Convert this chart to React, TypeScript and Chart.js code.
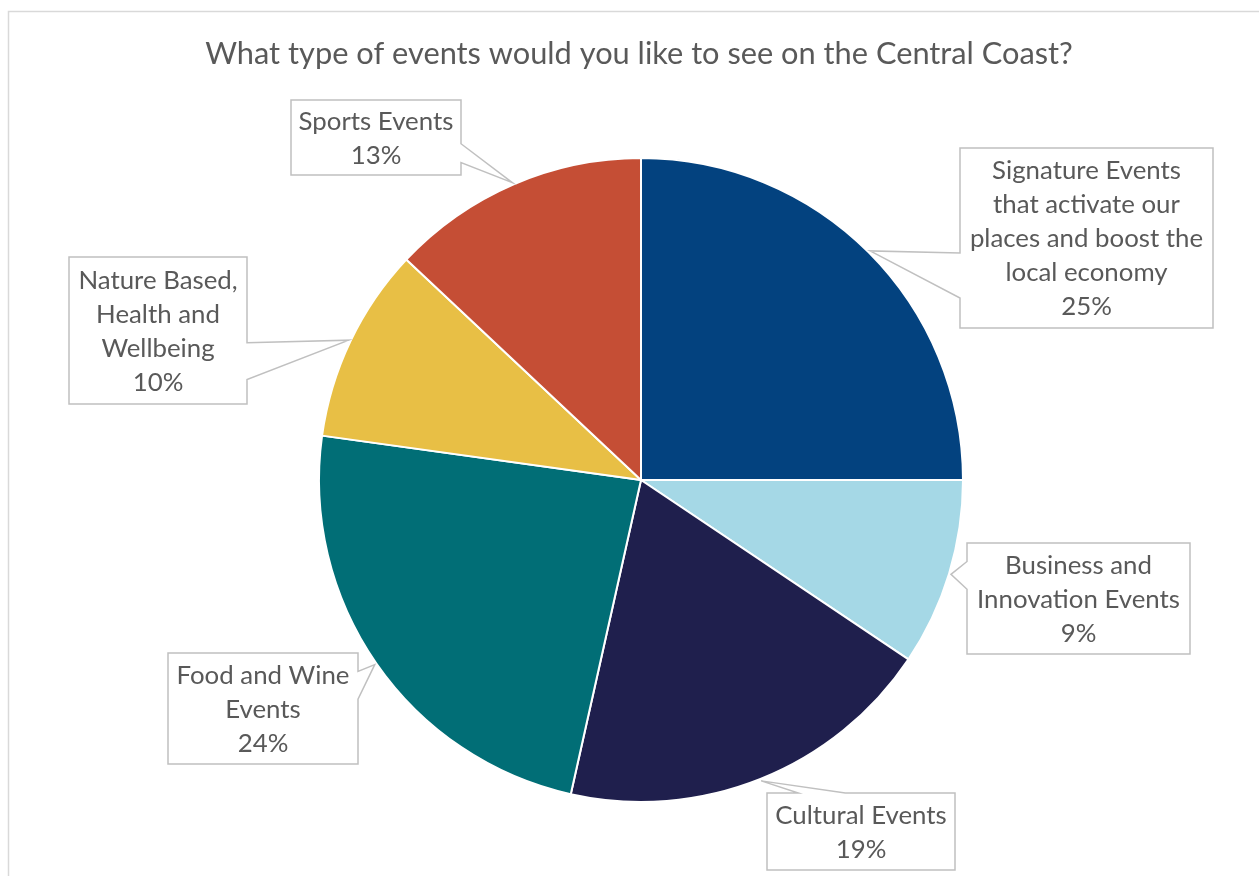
import React, { useEffect, useRef } from "react";
import { Chart, registerables } from "chart.js";

Chart.register(...registerables);

const TITLE = "What type of events would you like to see on the Central Coast?";

const categories = [
  "Signature Events that activate our places and boost the local economy",
  "Business and Innovation Events",
  "Cultural Events",
  "Food and Wine Events",
  "Nature Based, Health and Wellbeing",
  "Sports Events",
];

const labelLines = [
  ["Signature Events", "that activate our", "places and boost the", "local economy"],
  ["Business and", "Innovation Events"],
  ["Cultural Events"],
  ["Food and Wine", "Events"],
  ["Nature Based,", "Health and", "Wellbeing"],
  ["Sports Events"],
];

// share of responses (%)
const values = [25.0, 9.4, 19.1, 23.7, 9.8, 13.0];

const colors = ["#03427f", "#a5d8e6", "#1f1f4d", "#016e76", "#e8bf45", "#c54e35"];

// callout box layout: centre offset from pie centre (px) and box size (px)
const calloutOffsets = [
  [445.5, -242],
  [437.5, 118.5],
  [220, 351.5],
  [-378, 228.5],
  [-483, -149.5],
  [-265, -342.5],
];
const calloutSizes = [
  [253, 180],
  [223, 111],
  [188, 77],
  [190, 111],
  [178, 147],
  [170, 75],
];

const FONT = "Lato, 'Open Sans', sans-serif";
const TEXT_COLOR = "#595959";
const BOX_COLOR = "#c0c0c0";

function fitSize(ctx: CanvasRenderingContext2D, text: string, target: number) {
  ctx.font = `100px ${FONT}`;
  const w = ctx.measureText(text).width;
  return (100 * target) / w;
}

const calloutPlugin = {
  id: "callouts",
  beforeDraw(chart: any) {
    const ctx: CanvasRenderingContext2D = chart.ctx;
    ctx.save();
    // outer frame
    ctx.strokeStyle = "#d9d9d9";
    ctx.lineWidth = 1.5;
    ctx.beginPath();
    ctx.moveTo(8.5, chart.height);
    ctx.lineTo(8.5, 11.5);
    ctx.lineTo(chart.width, 11.5);
    ctx.stroke();
    // title
    const ts = fitSize(ctx, TITLE, 868);
    ctx.font = `${ts}px ${FONT}`;
    ctx.fillStyle = TEXT_COLOR;
    ctx.textAlign = "center";
    ctx.textBaseline = "alphabetic";
    ctx.fillText(TITLE, 639, 64);
    ctx.restore();
  },
  afterDatasetsDraw(chart: any) {
    const ctx: CanvasRenderingContext2D = chart.ctx;
    const meta = chart.getDatasetMeta(0);
    const total = values.reduce((a, b) => a + b, 0);
    const ls = fitSize(ctx, "Innovation Events", 203);
    meta.data.forEach((arc: any, i: number) => {
      const { x, y, startAngle, endAngle, outerRadius } = arc.getProps(
        ["x", "y", "startAngle", "endAngle", "outerRadius"],
        true
      );
      const mid = (startAngle + endAngle) / 2;
      const tx = x + Math.cos(mid) * (outerRadius + 2);
      const ty = y + Math.sin(mid) * (outerRadius + 2);
      const [ox, oy] = calloutOffsets[i];
      const [w, h] = calloutSizes[i];
      const cx = x + ox;
      const cy = y + oy;
      const left = cx - w / 2;
      const top = cy - h / 2;
      const right = left + w;
      const bottom = top + h;
      const ndx = (tx - cx) / w;
      const ndy = (ty - cy) / h;
      const horiz = Math.abs(ndx) > Math.abs(ndy);
      const pts: number[][] = [];
      pts.push([left, top]);
      if (!horiz && ndy < 0) {
        const a = tx < cx ? left + (w * 2) / 12 : left + (w * 7) / 12;
        const b = tx < cx ? left + (w * 5) / 12 : left + (w * 10) / 12;
        pts.push([a, top], [tx, ty], [b, top]);
      }
      pts.push([right, top]);
      if (horiz && ndx > 0) {
        const a = ty < cy ? top + (h * 2) / 12 : top + (h * 7) / 12;
        const b = ty < cy ? top + (h * 5) / 12 : top + (h * 10) / 12;
        pts.push([right, a], [tx, ty], [right, b]);
      }
      pts.push([right, bottom]);
      if (!horiz && ndy > 0) {
        const a = tx < cx ? left + (w * 5) / 12 : left + (w * 10) / 12;
        const b = tx < cx ? left + (w * 2) / 12 : left + (w * 7) / 12;
        pts.push([a, bottom], [tx, ty], [b, bottom]);
      }
      pts.push([left, bottom]);
      if (horiz && ndx < 0) {
        const a = ty < cy ? top + (h * 5) / 12 : top + (h * 10) / 12;
        const b = ty < cy ? top + (h * 2) / 12 : top + (h * 7) / 12;
        pts.push([left, a], [tx, ty], [left, b]);
      }
      ctx.save();
      ctx.beginPath();
      pts.forEach((p, k) => (k === 0 ? ctx.moveTo(p[0], p[1]) : ctx.lineTo(p[0], p[1])));
      ctx.closePath();
      ctx.fillStyle = "#ffffff";
      ctx.fill();
      ctx.strokeStyle = BOX_COLOR;
      ctx.lineWidth = 1.5;
      ctx.lineJoin = "miter";
      ctx.stroke();

      const lines = [...labelLines[i], `${Math.round((values[i] / total) * 100)}%`];
      const lh = 34;
      ctx.font = `${ls}px ${FONT}`;
      ctx.fillStyle = TEXT_COLOR;
      ctx.textAlign = "center";
      ctx.textBaseline = "alphabetic";
      lines.forEach((t, j) => {
        const ly = cy + (j - (lines.length - 1) / 2) * lh + 9;
        ctx.fillText(t, cx, ly);
      });
      ctx.restore();
    });
  },
};

export default function App() {
  const ref = useRef<HTMLCanvasElement | null>(null);
  useEffect(() => {
    if (!ref.current) return;
    const chart = new Chart(ref.current, {
      type: "pie",
      data: {
        labels: categories,
        datasets: [
          {
            data: values,
            backgroundColor: colors,
            borderColor: "#ffffff",
            borderWidth: 2,
          },
        ],
      },
      options: {
        responsive: false,
        animation: false,
        devicePixelRatio: 1,
        events: [],
        layout: { padding: { left: 318, right: 295, top: 157, bottom: 73 } },
        plugins: {
          legend: { display: false },
          tooltip: { enabled: false },
          title: { display: false },
        },
      },
      plugins: [calloutPlugin],
    } as any);
    return () => chart.destroy();
  }, []);
  return (
    <div style={{ position: "absolute", left: 0, top: 0, width: 1259, height: 876, background: "#fff" }}>
      <canvas ref={ref} width={1259} height={876} style={{ display: "block" }} />
    </div>
  );
}
